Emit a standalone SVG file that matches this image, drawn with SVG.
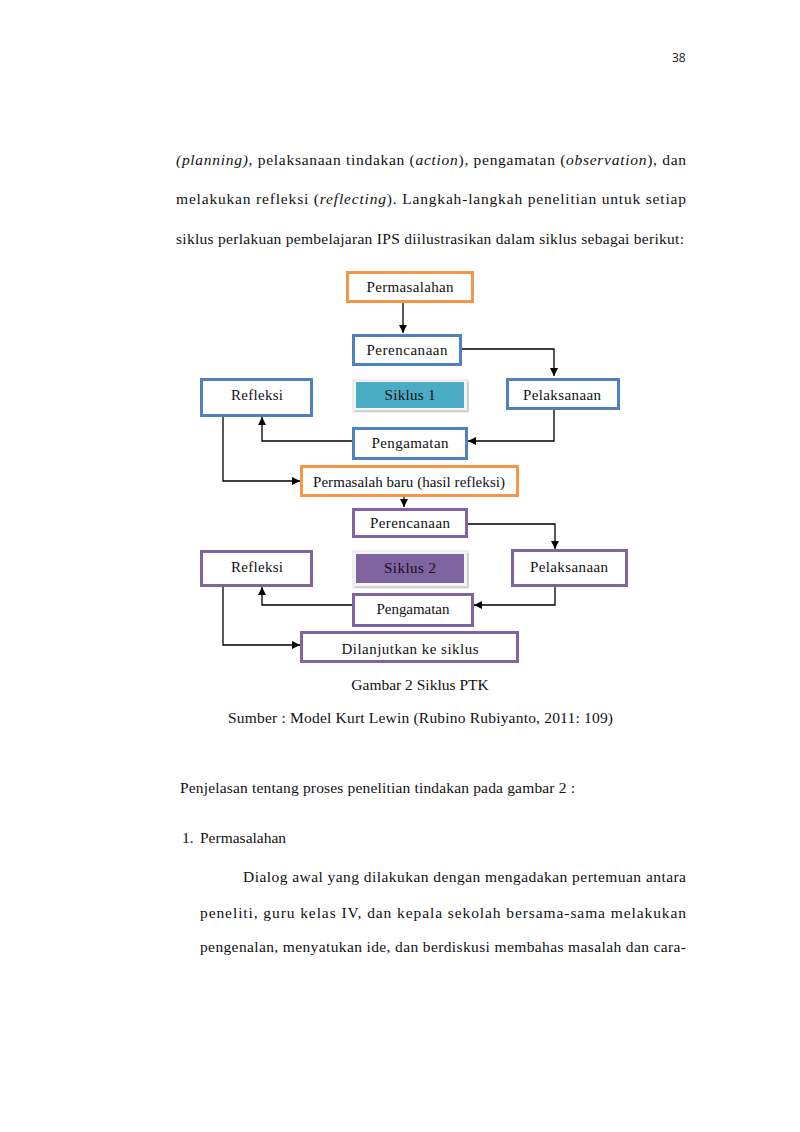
<svg xmlns="http://www.w3.org/2000/svg" width="800" height="1132" viewBox="0 0 800 1132">
<defs>
<marker id="ah" markerWidth="10" markerHeight="10" refX="8" refY="4" orient="auto" markerUnits="userSpaceOnUse">
<path d="M0,0 L8,4 L0,8 Z" fill="#000"/>
</marker>
<style>
.body{font-family:"Liberation Serif","Times New Roman",serif;font-size:15.5px;fill:#111}
.lbl{font-family:"Liberation Serif","Times New Roman",serif;font-size:15px;fill:#111;text-anchor:middle}
.blue{fill:#fff;stroke:#4F81BD;stroke-width:3}
.orange{fill:#fff;stroke:#F79646;stroke-width:3}
.purple{fill:#fff;stroke:#8064A2;stroke-width:3}
.con{fill:none;stroke:#000;stroke-width:1.3}
.pg{font-family:"Open Sans","Liberation Sans",sans-serif;font-size:12px;fill:#222}
</style>
</defs>
<rect width="800" height="1132" fill="#fff"/>
<text class="pg" x="672" y="62">38</text>

<text class="body" x="176" y="165" textLength="510" lengthAdjust="spacing"><tspan font-style="italic">(planning)</tspan>, pelaksanaan tindakan (<tspan font-style="italic">action</tspan>), pengamatan (<tspan font-style="italic">observation</tspan>), dan</text>
<text class="body" x="176" y="204" textLength="510" lengthAdjust="spacing">melakukan refleksi (<tspan font-style="italic">reflecting</tspan>). Langkah-langkah penelitian untuk setiap</text>
<text class="body" x="176" y="244" textLength="508" lengthAdjust="spacing">siklus perlakuan pembelajaran IPS diilustrasikan dalam siklus sebagai berikut:</text>

<g id="connectors">
<path class="con" d="M403,302 V333" marker-end="url(#ah)"/>
<path class="con" d="M461,349 H554 V376" marker-end="url(#ah)"/>
<path class="con" d="M554,409 V441 H468" marker-end="url(#ah)"/>
<path class="con" d="M353,441 H262 V417" marker-end="url(#ah)"/>
<path class="con" d="M223,407 V481 H300" marker-end="url(#ah)"/>
<path class="con" d="M404,496 V507" marker-end="url(#ah)"/>
<path class="con" d="M467,524 H555 V549" marker-end="url(#ah)"/>
<path class="con" d="M555,586 V605 H474" marker-end="url(#ah)"/>
<path class="con" d="M353,605 H262 V587" marker-end="url(#ah)"/>
<path class="con" d="M223,578 V645 H300" marker-end="url(#ah)"/>
</g>

<g id="permasalahan">
<rect class="orange" x="347.5" y="272.5" width="125" height="29"/>
<text class="lbl" x="410" y="292" textLength="87" lengthAdjust="spacing">Permasalahan</text>
</g>
<g id="perencanaan1">
<rect class="blue" x="353.5" y="335.5" width="107" height="29"/>
<text class="lbl" x="407" y="355" textLength="81" lengthAdjust="spacing">Perencanaan</text>
</g>
<g id="refleksi1">
<rect class="blue" x="201.5" y="379.5" width="110" height="36"/>
<text class="lbl" x="257" y="400" textLength="52" lengthAdjust="spacing">Refleksi</text>
</g>
<g id="siklus1">
<rect x="353" y="380" width="115" height="32" fill="#f4f4f4" stroke="#e0e0e0" stroke-width="1"/>
<path d="M355,411 H468 V382" fill="none" stroke="#c8c8c8" stroke-width="1.5"/>
<rect x="356" y="382" width="108" height="26" fill="#4BACC6"/>
<text class="lbl" x="410" y="400" textLength="51" lengthAdjust="spacing">Siklus 1</text>
</g>
<g id="pelaksanaan1">
<rect class="blue" x="507.5" y="379.5" width="111" height="29"/>
<text class="lbl" x="562" y="400" textLength="78" lengthAdjust="spacing">Pelaksanaan</text>
</g>
<g id="pengamatan1">
<rect class="blue" x="353.5" y="428.5" width="113" height="30"/>
<text class="lbl" x="410" y="448" textLength="77" lengthAdjust="spacing">Pengamatan</text>
</g>
<g id="permasalah-baru">
<rect class="orange" x="301.5" y="466.5" width="216" height="29"/>
<text class="lbl" x="409" y="487" font-size="14" textLength="192" lengthAdjust="spacing">Permasalah baru (hasil refleksi)</text>
</g>
<g id="perencanaan2">
<rect class="purple" x="353.5" y="509.5" width="113" height="27"/>
<text class="lbl" x="410" y="528" textLength="80" lengthAdjust="spacing">Perencanaan</text>
</g>
<g id="refleksi2">
<rect class="purple" x="201.5" y="551.5" width="110" height="34"/>
<text class="lbl" x="257" y="572" textLength="52" lengthAdjust="spacing">Refleksi</text>
</g>
<g id="siklus2">
<rect x="353" y="551" width="115" height="37" fill="#f4f4f4" stroke="#e0e0e0" stroke-width="1"/>
<path d="M355,587 H468 V553" fill="none" stroke="#c8c8c8" stroke-width="1.5"/>
<rect x="356" y="554" width="108" height="29" fill="#8064A2"/>
<text class="lbl" x="410" y="573" textLength="52" lengthAdjust="spacing">Siklus 2</text>
</g>
<g id="pelaksanaan2">
<rect class="purple" x="512.5" y="550.5" width="114" height="35"/>
<text class="lbl" x="569" y="572" textLength="78" lengthAdjust="spacing">Pelaksanaan</text>
</g>
<g id="pengamatan2">
<rect class="purple" x="353.5" y="594.5" width="119" height="31"/>
<text class="lbl" x="413" y="614" font-size="14" textLength="73" lengthAdjust="spacing">Pengamatan</text>
</g>
<g id="dilanjutkan">
<rect class="purple" x="301.5" y="632.5" width="216" height="29"/>
<text class="lbl" x="410" y="654" textLength="137" lengthAdjust="spacing">Dilanjutkan ke siklus</text>
</g>

<text class="body" x="420" y="690" text-anchor="middle">Gambar 2 Siklus PTK</text>
<text class="body" x="228" y="723" textLength="385" lengthAdjust="spacing">Sumber : Model Kurt Lewin (Rubino Rubiyanto, 2011: 109)</text>
<text class="body" x="180" y="793" textLength="395" lengthAdjust="spacing">Penjelasan tentang proses penelitian tindakan pada gambar 2 :</text>
<text class="body" x="182" y="843">1.</text>
<text class="body" x="200" y="843">Permasalahan</text>
<text class="body" x="243" y="882" textLength="443" lengthAdjust="spacing">Dialog awal yang dilakukan dengan mengadakan pertemuan antara</text>
<text class="body" x="200" y="918" textLength="486" lengthAdjust="spacing">peneliti, guru kelas IV, dan kepala sekolah bersama-sama melakukan</text>
<text class="body" x="200" y="952" textLength="486" lengthAdjust="spacing">pengenalan, menyatukan ide, dan berdiskusi membahas masalah dan cara-</text>
</svg>
